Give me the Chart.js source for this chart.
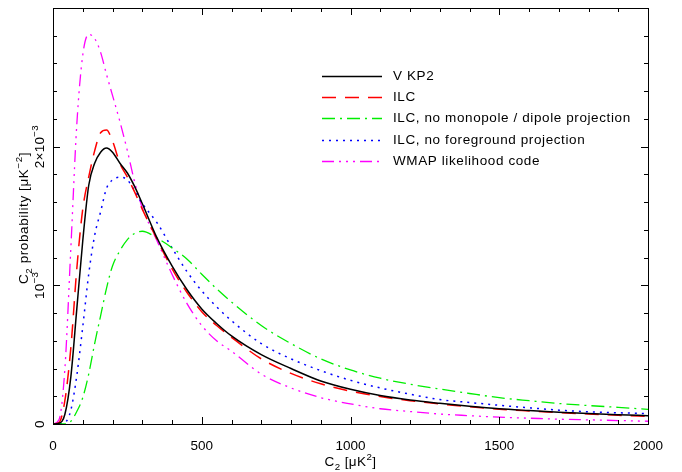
<!DOCTYPE html>
<html>
<head>
<meta charset="utf-8">
<script src="https://cdn.jsdelivr.net/npm/chart.js@4.4.0/dist/chart.umd.min.js"></script>
<style>
  html, body { margin: 0; padding: 0; background: #fff; }
  #wrap { width: 682px; height: 472px; }
</style>
</head>
<body>
<div id="wrap"><canvas id="chart" width="682" height="472"></canvas></div>
<script>
// --- DATA --- (probability values are in units of 1e-3 per uK^2)
const C2 = [0, 20, 40, 60, 80, 100, 120, 140, 160, 180, 200, 225, 250, 275, 300, 350, 400, 450, 500, 550,
            600, 700, 800, 900, 1000, 1100, 1200, 1300, 1400, 1500, 1600, 1700, 1800, 1900, 2000];

const vKp2 = [0, 0.005, 0.07, 0.34, 0.83, 1.32, 1.72, 1.88, 1.96, 1.99, 1.96, 1.88, 1.81, 1.71, 1.59, 1.34, 1.14, 0.97, 0.83, 0.725,
              0.635, 0.50, 0.40, 0.31, 0.25, 0.205, 0.173, 0.149, 0.128, 0.11, 0.097, 0.085, 0.075, 0.067, 0.06];
const ilc = [0, 0.01, 0.17, 0.55, 1.12, 1.55, 1.78, 1.97, 2.10, 2.12, 2.04, 1.88, 1.78, 1.67, 1.55, 1.33, 1.12, 0.95, 0.81, 0.71,
             0.625, 0.47, 0.365, 0.29, 0.237, 0.198, 0.168, 0.145, 0.124, 0.107, 0.094, 0.082, 0.072, 0.063, 0.055];
const ilcNoMonoDipole = [0, 0, 0, 0.02, 0.09, 0.19, 0.36, 0.58, 0.78, 0.98, 1.14, 1.25, 1.33, 1.375, 1.39, 1.34, 1.27, 1.19, 1.08, 0.975,
                         0.88, 0.71, 0.58, 0.47, 0.39, 0.33, 0.287, 0.252, 0.22, 0.19, 0.168, 0.148, 0.133, 0.12, 0.106];
const ilcNoForeground = [0, 0, 0.01, 0.10, 0.35, 0.70, 1.08, 1.36, 1.53, 1.70, 1.76, 1.78, 1.76, 1.68, 1.59, 1.45, 1.27, 1.10, 0.96, 0.845,
                         0.745, 0.58, 0.47, 0.385, 0.315, 0.26, 0.215, 0.176, 0.155, 0.135, 0.117, 0.10, 0.088, 0.081, 0.075];
const wmapLikelihood = [0, 0.03, 0.40, 1.27, 2.16, 2.66, 2.81, 2.78, 2.68, 2.52, 2.37, 2.18, 1.97, 1.74, 1.56, 1.32, 1.08, 0.87, 0.71, 0.60,
                        0.525, 0.36, 0.26, 0.19, 0.145, 0.11, 0.09, 0.072, 0.06, 0.049, 0.042, 0.035, 0.03, 0.025, 0.02];

const SERIES_LABELS = ['V KP2', 'ILC', 'ILC, no monopole / dipole projection', 'ILC, no foreground projection', 'WMAP likelihood code'];
const X_TICKS = [0, 500, 1000, 1500, 2000];
const Y_TICK_VALUES = [0, 1, 2];
// rich text pieces: [text, 'sub' | 'sup' | '']
const Y_TICK_LABELS = [
    [['0', '']],
    [['10', ''], ['\u22123', 'sup']],
    [['2\u00D710', ''], ['\u22123', 'sup']]
];
const X_TITLE = [['C', ''], ['2', 'sub'], [' [\u03BCK', ''], ['2', 'sup'], [']', '']];
const Y_TITLE = [['C', ''], ['2', 'sub'], [' probability [\u03BCK', ''], ['\u22122', 'sup'], [']', '']];

// --- STYLE ---
const FONT = '"Liberation Sans", Arial, Helvetica, sans-serif';
const FONT_SIZE = 13.5;
const STYLES = [
    { color: '#000000', dash: [], width: 1.5 },
    { color: '#ff0000', dash: [14, 9], width: 1.5 },
    { color: '#00ee00', dash: [13, 5, 2, 5], width: 1.3 },
    { color: '#0000ff', dash: [2, 5], width: 1.5 },
    { color: '#ff00ff', dash: [12, 5, 2, 5, 2, 5, 2, 5], width: 1.3 }
];

function toPoints(values) {
    return C2.map((x, i) => ({ x: x, y: values[i] }));
}

const allSeries = [vKp2, ilc, ilcNoMonoDipole, ilcNoForeground, wmapLikelihood];

// draws text with sub/superscripts, centred on (x, y), rotated by rot
function drawRich(ctx, parts, x, y, rot, spacing) {
    const small = FONT_SIZE * 0.72;
    ctx.save();
    ctx.translate(x, y);
    ctx.rotate(rot);
    ctx.textBaseline = 'alphabetic';
    ctx.textAlign = 'left';
    ctx.letterSpacing = (spacing || 0) + 'px';
    let total = 0;
    const widths = parts.map(([t, kind]) => {
        ctx.font = (kind ? small : FONT_SIZE) + 'px ' + FONT;
        const w = ctx.measureText(t).width;
        total += w;
        return w;
    });
    let cx = -total / 2;
    const base = FONT_SIZE * 0.36;
    parts.forEach(([t, kind], i) => {
        ctx.font = (kind ? small : FONT_SIZE) + 'px ' + FONT;
        let dy = 0;
        if (kind === 'sup') dy = -FONT_SIZE * 0.45;
        if (kind === 'sub') dy = FONT_SIZE * 0.28;
        ctx.fillText(t, cx, base + dy);
        cx += widths[i];
    });
    ctx.restore();
}

// frame, inward ticks, rotated y tick labels and axis titles
const framePlugin = {
    id: 'frame',
    afterDatasetsDraw(chart) {
        const { ctx, chartArea: a } = chart;
        const xs = chart.scales.x, ys = chart.scales.y;
        ctx.save();
        ctx.strokeStyle = '#000';
        ctx.lineWidth = 1;
        ctx.setLineDash([]);
        ctx.strokeRect(a.left + 0.5, a.top + 0.5, a.right - a.left, a.bottom - a.top);

        ctx.beginPath();
        for (let v = 0; v <= 2000; v += 100) {
            const px = Math.round(xs.getPixelForValue(v)) + 0.5;
            const len = v % 500 === 0 ? 7 : 4;
            ctx.moveTo(px, a.bottom); ctx.lineTo(px, a.bottom - len);
            ctx.moveTo(px, a.top); ctx.lineTo(px, a.top + len);
        }
        for (let k = 0; k <= 15; k++) {
            const v = k * 0.2;
            const py = Math.round(ys.getPixelForValue(v)) + 0.5;
            const len = k % 5 === 0 ? 7 : 4;
            ctx.moveTo(a.left, py); ctx.lineTo(a.left + len, py);
            ctx.moveTo(a.right, py); ctx.lineTo(a.right - len, py);
        }
        ctx.stroke();

        ctx.fillStyle = '#000';
        Y_TICK_VALUES.forEach((v, i) => {
            drawRich(ctx, Y_TICK_LABELS[i], a.left - 14, ys.getPixelForValue(v), -Math.PI / 2, 0.3);
        });
        drawRich(ctx, X_TITLE, (a.left + a.right) / 2, 461, 0, 0.4);
        drawRich(ctx, Y_TITLE, 23, (a.top + a.bottom) / 2 + 2, -Math.PI / 2, 0.6);
        ctx.restore();
    }
};

// legend inside the plot
const legendPlugin = {
    id: 'insideLegend',
    afterDatasetsDraw(chart) {
        const { ctx, chartArea: a } = chart;
        const x0 = a.left + 269, x1 = x0 + 60, tx = x1 + 11;
        ctx.save();
        ctx.font = FONT_SIZE + 'px ' + FONT;
        ctx.textBaseline = 'middle';
        ctx.textAlign = 'left';
        chart.data.datasets.forEach((ds, i) => {
            const y = Math.round(a.top + 68 + i * 21.2) + 0.5;
            ctx.strokeStyle = ds.borderColor;
            ctx.lineWidth = ds.borderWidth;
            ctx.setLineDash(ds.borderDash);
            ctx.beginPath();
            ctx.moveTo(x0, y);
            ctx.lineTo(x1, y);
            ctx.stroke();
            ctx.fillStyle = '#000';
            ctx.letterSpacing = '0.6px';
            ctx.fillText(ds.label, tx, y);
            ctx.letterSpacing = '0px';
        });
        ctx.restore();
    }
};

new Chart(document.getElementById('chart'), {
    type: 'line',
    data: {
        datasets: allSeries.map((vals, i) => ({
            label: SERIES_LABELS[i],
            data: toPoints(vals),
            borderColor: STYLES[i].color,
            borderDash: STYLES[i].dash,
            borderWidth: STYLES[i].width,
            pointRadius: 0,
            fill: false,
            cubicInterpolationMode: 'monotone'
        }))
    },
    options: {
        responsive: false,
        animation: false,
        layout: { padding: { top: 8, right: 34, bottom: 0, left: 0 } },
        plugins: {
            legend: { display: false },
            tooltip: { enabled: false }
        },
        scales: {
            x: {
                type: 'linear',
                min: 0,
                max: 2000,
                afterBuildTicks: s => { s.ticks = X_TICKS.map(v => ({ value: v })); },
                afterFit: s => { s.height = 48; },
                ticks: {
                    color: '#000',
                    font: { family: FONT, size: FONT_SIZE },
                    padding: 6,
                    maxRotation: 0,
                    callback: v => String(v)
                },
                grid: { display: false },
                border: { display: false }
            },
            y: {
                type: 'linear',
                min: 0,
                max: 3,
                afterFit: s => { s.width = 53; },
                ticks: { display: false },
                grid: { display: false },
                border: { display: false }
            }
        }
    },
    plugins: [framePlugin, legendPlugin]
});
</script>
</body>
</html>
